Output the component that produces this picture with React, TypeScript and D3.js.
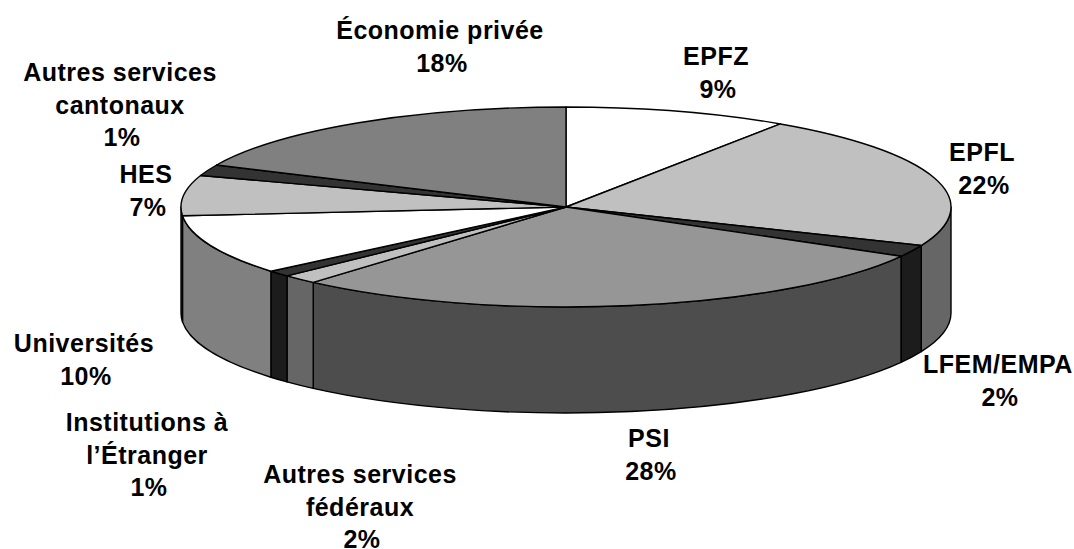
import React from 'react';
import * as d3 from 'd3';

// shares, clockwise from 12 o'clock
const names = ['EPFZ', 'EPFL', 'LFEM/EMPA', 'PSI', 'Autres services fédéraux', 'Institutions à l’Étranger', 'Universités', 'HES', 'Autres services cantonaux', 'Économie privée'];
const shares = [9.4, 21.9, 1.9, 28.2, 1.5, 1.0, 9.7, 6.5, 1.8, 18.1];
const topColors = ['#ffffff', '#c0c0c0', '#333333', '#969696', '#c0c0c0', '#333333', '#ffffff', '#c0c0c0', '#333333', '#808080'];
const sideColors = ['#808080', '#666666', '#1c1c1c', '#4d4d4d', '#666666', '#1c1c1c', '#808080', '#808080', '#1c1c1c', '#666666'];
const labelLines = [
  ['EPFZ', '9%'],
  ['EPFL', '22%'],
  ['LFEM/EMPA', '2%'],
  ['PSI', '28%'],
  ['Autres services', 'fédéraux', '2%'],
  ['Institutions à', 'l’Étranger', '1%'],
  ['Universités', '10%'],
  ['HES', '7%'],
  ['Autres services', 'cantonaux', '1%'],
  ['Économie privée', '18%'],
];
// label anchor: centre x, first baseline
const labelX = [716, 982, 998, 649, 360, 147, 84, 146, 120, 440];
const labelY = [65, 161, 373, 447, 483, 431, 352, 183, 81, 39];

const width = 1074;
const height = 549;
const cx = 566;
const cy = 207;
const rx = 385;
const ry = 100;
const depth = 106;
const lineGap = 32.5;

const px = (a: number) => cx + rx * Math.sin(a);
const py = (a: number) => cy - ry * Math.cos(a);

function sidePath(a0: number, a1: number) {
  const s = Math.max(a0, Math.PI / 2);
  const e = Math.min(a1, (3 * Math.PI) / 2);
  if (e <= s) return null;
  return `M${px(s)},${py(s)}A${rx},${ry} 0 0 1 ${px(e)},${py(e)}L${px(e)},${py(e) + depth}A${rx},${ry} 0 0 0 ${px(s)},${py(s) + depth}Z`;
}

function topPath(a0: number, a1: number) {
  const large = a1 - a0 > Math.PI ? 1 : 0;
  return `M${cx},${cy}L${px(a0)},${py(a0)}A${rx},${ry} 0 ${large} 1 ${px(a1)},${py(a1)}Z`;
}

export default function App() {
  const arcs = d3.pie<number>().sort(null)(shares);
  return (
    <svg width={width} height={height} style={{ position: 'absolute', left: 0, top: 0 }}>
      <rect width={width} height={height} fill="#fff" />
      <g stroke="#000" strokeWidth={1.4} strokeLinejoin="round">
        {arcs.map((d, i) => {
          const p = sidePath(d.startAngle, d.endAngle);
          return p ? <path key={names[i] + 'side'} d={p} fill={sideColors[i]} /> : null;
        })}
        {arcs.map((d, i) => (
          <path key={names[i]} d={topPath(d.startAngle, d.endAngle)} fill={topColors[i]} />
        ))}
      </g>
      <g fontFamily="'Liberation Sans', Arial, sans-serif" fontWeight="bold" fontSize={25} letterSpacing={0.5} textAnchor="middle" fill="#000">
        {labelLines.map((lines, i) => (
          <text key={names[i]} x={labelX[i]} y={labelY[i]}>
            {lines.map((t, j) => (
              // percent lines sit a little right of the name in the original
              <tspan key={j} x={labelX[i] + (j === lines.length - 1 ? 2 : 0)} dy={j === 0 ? 0 : lineGap}>{t}</tspan>
            ))}
          </text>
        ))}
      </g>
    </svg>
  );
}
